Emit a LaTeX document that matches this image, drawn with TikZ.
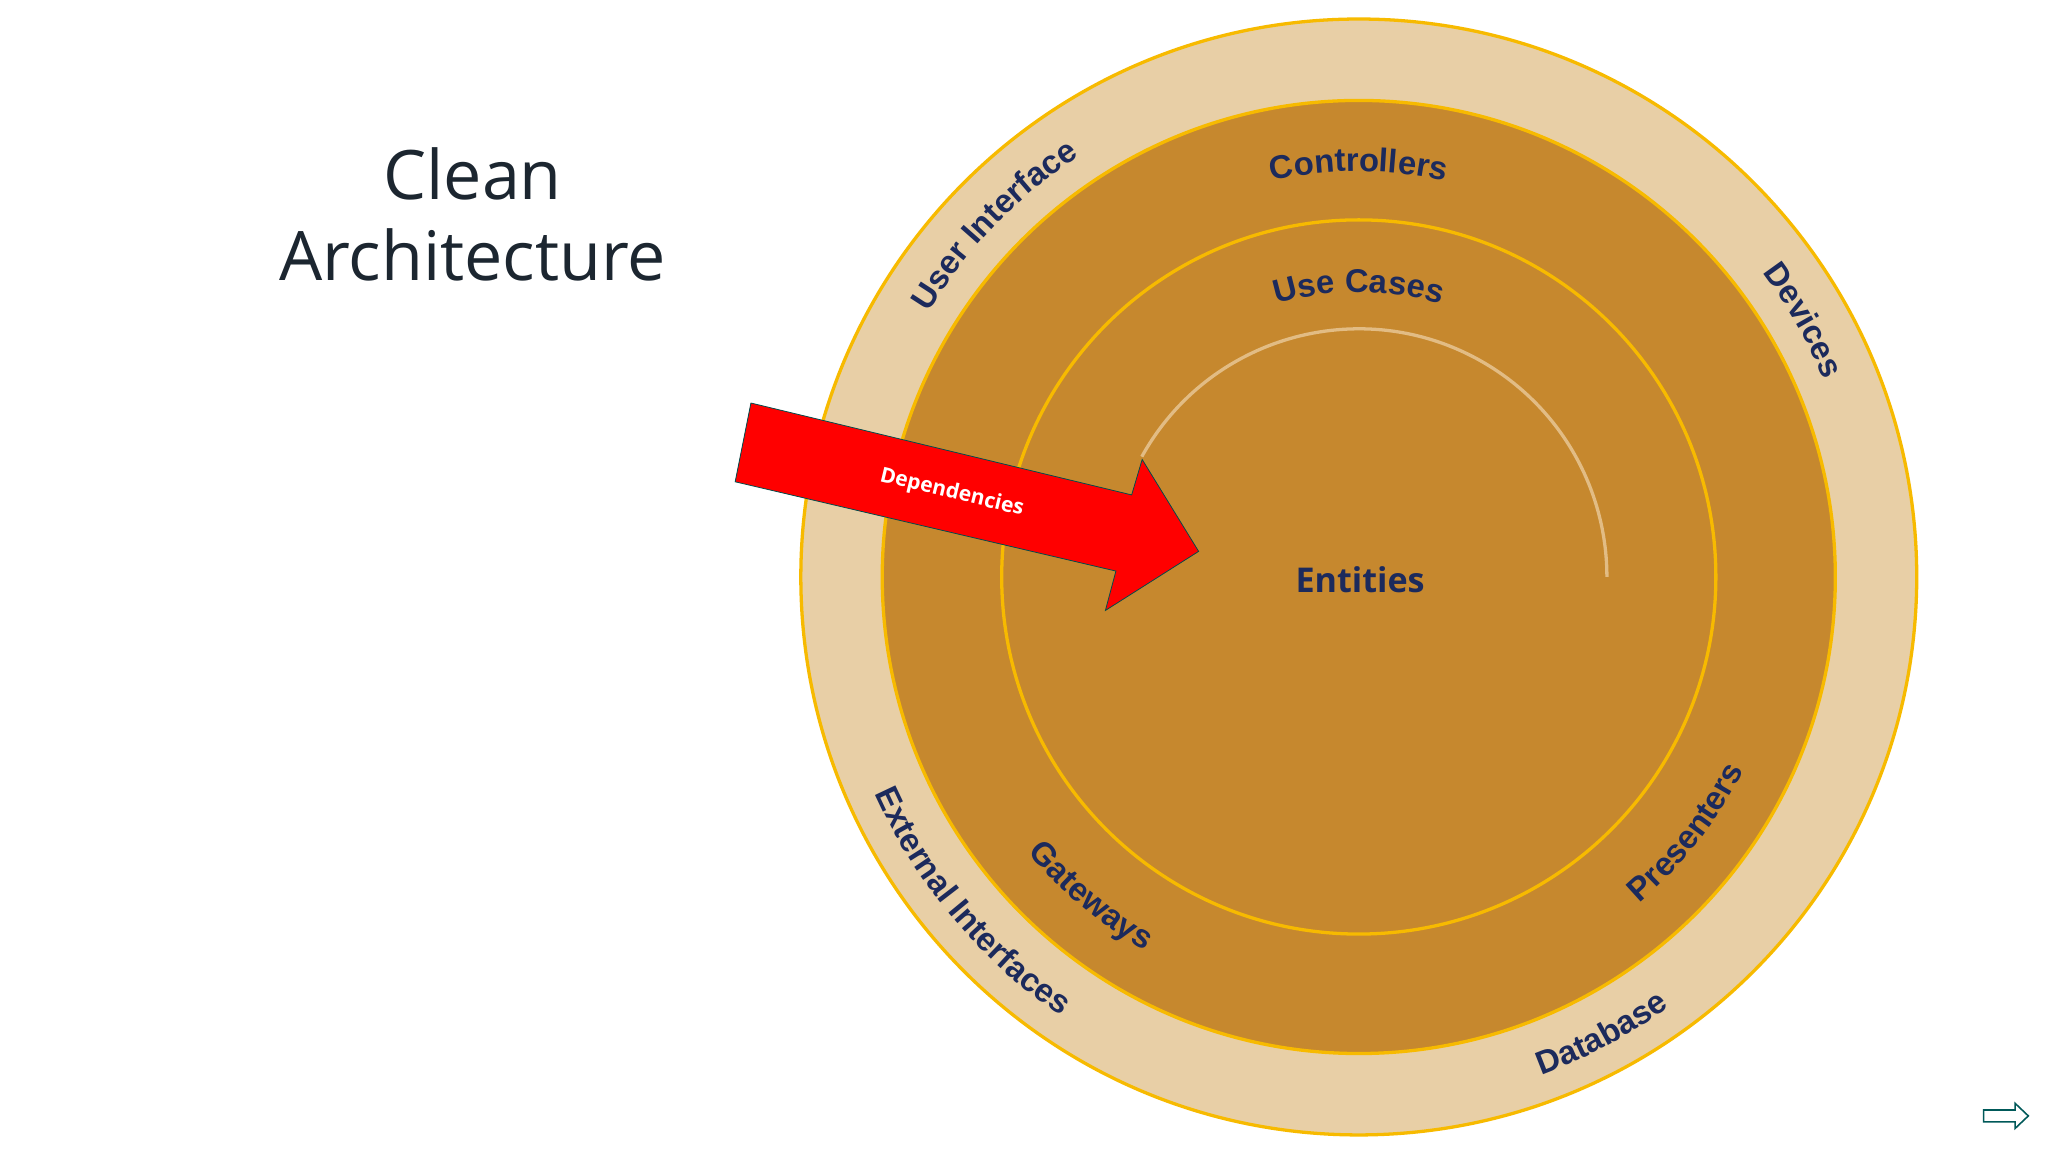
\documentclass[tikz,border=0pt]{standalone}
\usepackage{fontspec}
\setmainfont{Open Sans}
\newfontfamily\lab{Liberation Sans}
\usetikzlibrary{decorations.text}
\definecolor{outerc}{HTML}{E8CFA6}
\definecolor{innerc}{HTML}{C6882E}
\definecolor{ringc}{HTML}{F7BA00}
\definecolor{navy}{HTML}{1C2A5C}
\definecolor{titlec}{HTML}{1C2630}
\definecolor{arcc}{HTML}{E2BC84}
\newcommand{\lf}{\lab\fontsize{25}{25}\selectfont\bfseries\color{navy}}
\tikzset{
  ring/.style={draw=ringc, line width=2.5pt},
  curv/.style={decorate, decoration={text along path, text align=center, text={|\lf|#1}}}
}
\newcommand{\cwlab}[4]{%
  \path[curv={#4}] (c) ++(#1:#3pt) arc[start angle=#1, end angle=#2, radius=#3pt];}
\begin{document}
\begin{tikzpicture}[x=1pt,y=1pt]
\useasboundingbox (0,0) rectangle (1560,877.5);
\fill[white] (0,0) rectangle (1560,877.5);
\coordinate (c) at (1035,438);
\fill[outerc] (c) circle[radius=425pt];
\draw[ring] (c) circle[radius=425pt];
\fill[innerc] (c) circle[radius=363pt];
\draw[ring] (c) circle[radius=363pt];
\draw[ring] (c) circle[radius=272pt];
\draw[arcc, line width=2.5pt] (c) ++(151:189pt) arc[start angle=151, end angle=0, radius=189pt];
\cwlab{160}{112}{385}{User Interface}
\cwlab{54}{6}{385}{Devices}
\cwlab{114}{66}{309}{Controllers}
\cwlab{117}{63}{217}{Use Cases}
\cwlab{190}{250}{404}{External Interfaces}
\cwlab{276}{320}{404}{Database}
\cwlab{206}{254}{328}{Gateways}
\cwlab{296}{348}{328}{Presenters}
\node[font=\fontsize{26}{26}\selectfont\bfseries, text=navy] (ent) at (1036,436) {Entities};
\node[font=\fontsize{52}{62}\selectfont, text=titlec, align=center] (title) at (360,714) {Clean\\Architecture};
\draw[fill=red, draw=teal!60!black, line width=0.6pt]
  (572,570.5) -- (862,500.5) -- (870,527.5) -- (913,457.5) -- (842,412.5) -- (850,442.5) -- (560,510.5) -- cycle;
\node[rotate=-13.5, text=white, font=\fontsize{16}{16}\selectfont\bfseries] (dep) at (725,502) {Dependencies};
\draw[draw=teal!70!black, line width=1.2pt]
  (1511,23) -- (1535,23) -- (1535,18) -- (1545,27.5) -- (1535,37) -- (1535,32) -- (1511,32) -- cycle;
\end{tikzpicture}
\end{document}
